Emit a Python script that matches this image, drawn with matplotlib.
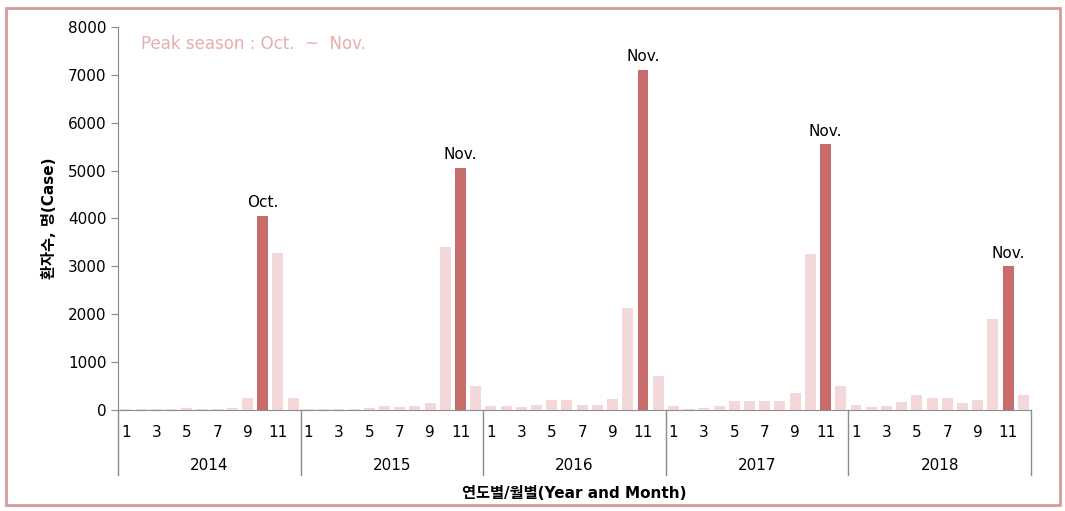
import numpy as np
import matplotlib.pyplot as plt
from matplotlib.patches import Rectangle

plt.rcParams['font.family'] = ['DejaVu Sans', 'Noto Sans CJK KR']


#월별 환자수 (연도별)
years = [2014, 2015, 2016, 2017, 2018]
cases = {
    2014: [25, 25, 25, 25, 45, 25, 25, 45, 250, 4050, 3280, 250],
    2015: [20, 20, 20, 20, 40, 70, 50, 75, 150, 3400, 5050, 500],
    2016: [75, 75, 50, 100, 200, 200, 100, 100, 230, 2130, 7100, 700],
    2017: [75, 20, 30, 75, 180, 180, 180, 180, 350, 3250, 5550, 500],
    2018: [100, 50, 75, 170, 300, 250, 250, 150, 200, 1900, 3000, 320],
}
peak_month = {2014: 10, 2015: 11, 2016: 11, 2017: 11, 2018: 11}
peak_name = {10: 'Oct.', 11: 'Nov.'}

# 막대 데이터 정리
values = []
colors = []
for y in years:
    for m, v in enumerate(cases[y], start=1):
        values.append(v)
        colors.append('#C76B6B' if m == peak_month[y] else '#F3D8D9')
x = np.arange(len(values))

fig = plt.figure(figsize=(10.65, 5.11), dpi=100)
ax = fig.add_axes([0.111, 0.198, 0.857, 0.749])

# 막대 그래프
plt.bar(x, values, width=0.72, color=colors)
plt.xlim(-0.5, len(values) - 0.5)
plt.ylim(0, 8000)
plt.yticks(range(0, 8001, 1000), fontsize=11)
plt.xticks([])

for s in ['top', 'right']:
    ax.spines[s].set_visible(False)
for s in ['left', 'bottom']:
    ax.spines[s].set_color('#8C8C8C')
ax.tick_params(axis='y', length=5, color='#8C8C8C', direction='out')

# 최고 시기 표시
for i, y in enumerate(years):
    m = peak_month[y]
    idx = i * 12 + m - 1
    plt.text(idx, values[idx] + 120, peak_name[m], ha='center', va='bottom', fontsize=11)

# 월, 연도 레이블 및 구분선
trans = ax.get_xaxis_transform()
for i, y in enumerate(years):
    for m in range(1, 13, 2):
        plt.text(i * 12 + m - 1, -0.06, str(m), transform=trans,
                 ha='center', va='center', fontsize=11)
    plt.text(i * 12 + 5.5, -0.145, str(y), transform=trans,
             ha='center', va='center', fontsize=11)
for b in range(len(years) + 1):
    plt.plot([b * 12 - 0.5, b * 12 - 0.5], [0, -0.17], transform=trans,
             color='#8C8C8C', lw=1, clip_on=False)

plt.text(0.025, 0.955, 'Peak season : Oct.  ~  Nov.', transform=ax.transAxes,
         color='#E6AEAE', fontsize=12, va='center')
plt.xlabel('연도별/월별(Year and Month)', fontsize=11, fontweight='bold', labelpad=64)
ax.xaxis.set_label_coords(0.5, -0.2)
plt.ylabel('환자수, 명(Case)', fontsize=11, fontweight='bold', labelpad=8)
ax.xaxis.label.set_va('top')

# 테두리
fig.patches.append(Rectangle((0.006, 0.012), 0.989, 0.972, transform=fig.transFigure,
                             fill=False, edgecolor='#D59A9C', lw=2))

plt.savefig('out.png')
